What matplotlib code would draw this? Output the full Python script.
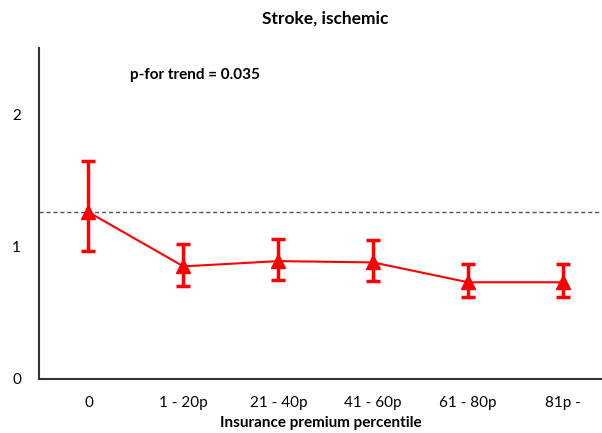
import numpy as np
import matplotlib.pyplot as plt

plt.rcParams['font.family'] = ['Lato', 'DejaVu Sans']

categories = ['0', '1 - 20p', '21 - 40p', '41 - 60p', '61 - 80p', '81p -']
hr = [1.26, 0.85, 0.89, 0.88, 0.73, 0.73]
lower = [0.97, 0.70, 0.75, 0.74, 0.62, 0.62]
upper = [1.65, 1.02, 1.06, 1.05, 0.87, 0.87]
ref_line = 1.26

x = np.arange(len(categories))
hr = np.array(hr)
yerr = [hr - np.array(lower), np.array(upper) - hr]

fig = plt.figure(figsize=(6.02, 4.33), dpi=100)
ax = fig.add_axes([0.065, 0.125, 0.935, 0.764])

ax.axhline(ref_line, color='#555555', linestyle=(0, (3, 2)), linewidth=1, zorder=1)
ax.errorbar(x, hr, yerr=yerr, color='red', linewidth=1.5, marker='^', markersize=10,
            elinewidth=2.5, capsize=5, capthick=2.5, zorder=3)

ax.set_xlim(-0.52, 5.41)
ax.set_ylim(0, 2.5)
ax.set_xticks(x)
ax.set_xticklabels(categories, fontsize=11)
ax.set_yticks([0, 1, 2])
ax.tick_params(length=0, pad=12, labelsize=11)
ax.tick_params(axis='y', pad=13)
for s in ['top', 'right']:
    ax.spines[s].set_visible(False)
for s in ['left', 'bottom']:
    ax.spines[s].set_linewidth(1.5)
    ax.spines[s].set_color('#333333')

ax.set_xlabel('Insurance premium percentile', fontsize=11, fontweight='bold', labelpad=5)
fig.suptitle('Stroke, ischemic', fontsize=12.5, fontweight='bold', x=0.54, y=0.975)
ax.text(1.12, 2.3, 'p-for trend = 0.035', fontsize=11, fontweight='bold', ha='center', va='center')

fig.savefig('out.png', dpi=100)
